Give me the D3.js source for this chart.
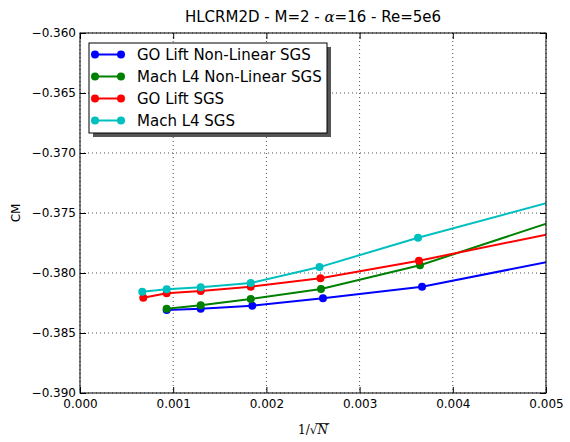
<!DOCTYPE html>
<html><head><meta charset="utf-8">
<script src="https://cdn.jsdelivr.net/npm/d3@7"></script>
<style>body{margin:0;background:#fff}svg{display:block}text{font-family:"DejaVu Sans",sans-serif}</style>
</head><body><svg id="c" width="570" height="442"></svg>
<script>
const xTicks = [0.000, 0.001, 0.002, 0.003, 0.004, 0.005];
const yTicks = [-0.360, -0.365, -0.370, -0.375, -0.380, -0.385, -0.390];
const seriesNames = ["GO Lift Non-Linear SGS", "Mach L4 Non-Linear SGS", "GO Lift SGS", "Mach L4 SGS"];
const seriesColors = ["#0000ff", "#008000", "#ff0000", "#00bfbf"];
const goLiftNL_x = [0.00093, 0.001295, 0.001849, 0.002607, 0.003670, 0.00519];
const goLiftNL_y = [-0.383083, -0.382975, -0.382725, -0.382108, -0.381142, -0.378817];
const machNL_x = [0.00093, 0.001295, 0.001832, 0.002586, 0.003648, 0.00516];
const machNL_y = [-0.382975, -0.382692, -0.382167, -0.381333, -0.379358, -0.375482];
const goLift_x = [0.000679, 0.00093, 0.001295, 0.001832, 0.00258, 0.003637, 0.00513];
const goLift_y = [-0.382058, -0.381692, -0.3815, -0.381142, -0.380442, -0.378975, -0.376601];
const mach_x = [0.000668, 0.00093, 0.001295, 0.001832, 0.00257, 0.003627, 0.00511];
const mach_y = [-0.381558, -0.381358, -0.381192, -0.380833, -0.379508, -0.377058, -0.37396];

const seriesX = [goLiftNL_x, machNL_x, goLift_x, mach_x];
const seriesY = [goLiftNL_y, machNL_y, goLift_y, mach_y];

const L = 80, R = 546, T = 33, B = 393;
const svg = d3.select("#c");
const x = d3.scaleLinear().domain([0, 0.005]).range([L, R]);
const y = d3.scaleLinear().domain([-0.390, -0.360]).range([B, T]);

svg.append("defs").append("clipPath").attr("id", "clip")
  .append("rect").attr("x", L).attr("y", T).attr("width", R - L).attr("height", B - T);

// grid
const g = svg.append("g");
g.selectAll(".gx").data(xTicks).join("line")
  .attr("x1", d => x(d)).attr("x2", d => x(d)).attr("y1", T).attr("y2", B)
  .attr("stroke", "#000").attr("stroke-width", 0.7).attr("stroke-dasharray", "1,3");
g.selectAll(".gy").data(yTicks).join("line")
  .attr("x1", L).attr("x2", R).attr("y1", d => y(d)).attr("y2", d => y(d))
  .attr("stroke", "#000").attr("stroke-width", 0.7).attr("stroke-dasharray", "1,3");

// series
const plot = svg.append("g").attr("clip-path", "url(#clip)");
const line = d3.line().x(d => x(d[0])).y(d => y(d[1]));
seriesX.forEach((xs, i) => {
  const pts = xs.map((v, j) => [v, seriesY[i][j]]);
  plot.append("path").datum(pts).attr("d", line).attr("fill", "none")
    .attr("stroke", seriesColors[i]).attr("stroke-width", 2);
  plot.selectAll(null).data(pts).join("circle")
    .attr("cx", d => x(d[0])).attr("cy", d => y(d[1])).attr("r", 4)
    .attr("fill", seriesColors[i]);
});

// axes with inward ticks
const fmt = d3.format(".3f");
const fmtY = d => fmt(d).replace("-", "\u2212");
const axB = svg.append("g").attr("transform", `translate(0,${B})`)
  .call(d3.axisBottom(x).tickValues(xTicks).tickFormat(fmt).tickSizeInner(-6).tickSizeOuter(0).tickPadding(4));
const axT = svg.append("g").attr("transform", `translate(0,${T})`)
  .call(d3.axisTop(x).tickValues(xTicks).tickFormat("").tickSizeInner(-6).tickSizeOuter(0));
const axL = svg.append("g").attr("transform", `translate(${L},0)`)
  .call(d3.axisLeft(y).tickValues(yTicks).tickFormat(fmtY).tickSizeInner(-6).tickSizeOuter(0).tickPadding(4));
const axR = svg.append("g").attr("transform", `translate(${R},0)`)
  .call(d3.axisRight(y).tickValues(yTicks).tickFormat("").tickSizeInner(-6).tickSizeOuter(0));
[axB, axT, axL, axR].forEach(a => {
  a.select(".domain").remove();
  a.selectAll("text").attr("font-size", 12).attr("fill", "#000").style("font-family", "DejaVu Sans");
  a.selectAll("line").attr("stroke", "#000");
});
axB.selectAll("text").attr("dy", "0.9em");
svg.append("rect").attr("x", L).attr("y", T).attr("width", R - L).attr("height", B - T)
  .attr("fill", "none").attr("stroke", "#000").attr("stroke-width", 1);

// title
const title = svg.append("text").attr("x", (L + R) / 2).attr("y", 22).attr("text-anchor", "middle")
  .attr("font-size", 15).attr("fill", "#000");
title.append("tspan").text("HLCRM2D - M=2 - ");
title.append("tspan").text("\u03b1").style("font-family", "DejaVu Serif").attr("font-style", "italic");
title.append("tspan").text("=16 - Re=5e6");

// y label
svg.append("text").attr("transform", `translate(20,${(T + B) / 2}) rotate(-90)`)
  .attr("text-anchor", "middle").attr("font-size", 12).attr("fill", "#000").text("CM");

// x label
const xl = svg.append("text").attr("x", (L + R) / 2).attr("y", 434).attr("text-anchor", "middle")
  .attr("font-size", 12).style("font-family", "DejaVu Serif").attr("fill", "#000");
xl.append("tspan").text("1/\u221a");
const nSpan = xl.append("tspan").text("N").attr("font-style", "italic");
const nb = nSpan.node().getBBox();
svg.append("line").attr("x1", nb.x - 1).attr("x2", nb.x + nb.width + 1)
  .attr("y1", nb.y + 0.5).attr("y2", nb.y + 0.5).attr("stroke", "#000").attr("stroke-width", 0.8);

// legend
const lx = 89, ly = 43, lw = 238, lh = 90;
const lg = svg.append("g");
lg.append("rect").attr("x", lx + 4).attr("y", ly + 4).attr("width", lw).attr("height", lh).attr("fill", "#555");
lg.append("rect").attr("x", lx).attr("y", ly).attr("width", lw).attr("height", lh)
  .attr("fill", "#fff").attr("stroke", "#000").attr("stroke-width", 1);
seriesNames.forEach((name, i) => {
  const cy = 54.5 + i * 22;
  lg.append("line").attr("x1", 95).attr("x2", 121).attr("y1", cy).attr("y2", cy)
    .attr("stroke", seriesColors[i]).attr("stroke-width", 2);
  [95, 121].forEach(cx => lg.append("circle").attr("cx", cx).attr("cy", cy).attr("r", 4).attr("fill", seriesColors[i]));
  lg.append("text").attr("x", 137).attr("y", cy).attr("dy", "0.36em").attr("font-size", 15)
    .attr("fill", "#000").text(name);
});
</script></body></html>
